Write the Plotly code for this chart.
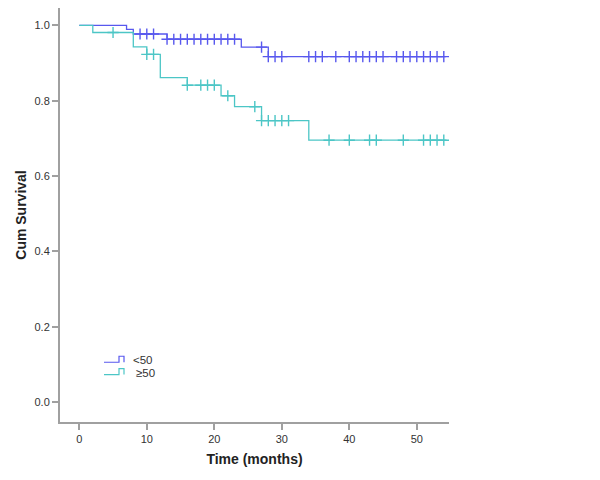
import plotly.graph_objects as go

# ---- data ----
under50_times = [0, 7, 8, 13, 24, 28, 54.3]
under50_surv = [1.0, 0.989, 0.977, 0.963, 0.942, 0.917, 0.917]
under50_censor = [9, 10, 11, 13, 14, 15, 16, 17, 18, 19, 20, 21, 22, 23, 27,
                  28, 29, 30, 34, 35, 36, 38, 40, 41, 42, 43, 44, 45,
                  47, 48, 49, 50, 51, 52, 53, 54]

over50_times = [0, 2, 8, 10, 12, 16, 21, 23, 27, 34, 54.4]
over50_surv = [1.0, 0.981, 0.943, 0.923, 0.861, 0.841, 0.813, 0.784, 0.747, 0.695, 0.695]
over50_censor = [5, 10, 11, 16, 18, 19, 20, 22, 26, 27, 28, 29, 30, 31,
                 37, 40, 43, 44, 48, 51, 52, 53, 54]

group_labels = ["<50", "≥50"]
x_ticks = [0, 10, 20, 30, 40, 50]
y_ticks = [0.0, 0.2, 0.4, 0.6, 0.8, 1.0]

BLUE = "#5858ee"
TEAL = "#4cc6c6"


def surv_at(times, surv, t):
    s = surv[0]
    for ti, si in zip(times, surv):
        if t >= ti:
            s = si
    return s


fig = go.Figure()
for times, surv, cens, col, name in [
    (under50_times, under50_surv, under50_censor, BLUE, group_labels[0]),
    (over50_times, over50_surv, over50_censor, TEAL, group_labels[1]),
]:
    fig.add_trace(go.Scatter(x=times, y=surv, mode="lines", line_shape="hv",
                             line=dict(color=col, width=1.3), name=name,
                             showlegend=False, hoverinfo="skip"))
    fig.add_trace(go.Scatter(x=cens, y=[surv_at(times, surv, t) for t in cens],
                             mode="markers",
                             marker=dict(symbol="cross-thin", size=8,
                                         line=dict(color=col, width=1.4)),
                             showlegend=False, hoverinfo="skip"))

# plot area in page pixels (page has an 8px body margin)
OFF = 8
L, R, T, B = 60, 449, 8, 421.7


def px(x):
    return (x - L) / (R - L)


def py(y):
    return (B - y) / (B - T)


# manual legend with step-shaped glyphs
for i, (col, lab) in enumerate(zip([BLUE, TEAL], group_labels)):
    yb = 362 + i * 12.3
    yt = yb - 6
    path = (f"M {px(104)},{py(yb)} L {px(119)},{py(yb)} L {px(119)},{py(yt)} "
            f"L {px(124)},{py(yt)} L {px(124)},{py(yb)}")
    fig.add_shape(type="path", path=path, xref="paper", yref="paper",
                  line=dict(color=col, width=1.2))
    fig.add_annotation(x=px(131 + i * 2.5), y=py(yb - 2), xref="paper", yref="paper",
                       text=lab, showarrow=False, xanchor="left", yanchor="middle",
                       font=dict(family="Liberation Sans, Arial", size=11.5, color="#333333"))

axis_common = dict(showline=True, linecolor="#a0a0a0", linewidth=2,
                   showgrid=False, zeroline=False, ticks="outside",
                   ticklen=6, tickwidth=1.5, tickcolor="#a0a0a0",
                   tickfont=dict(family="Liberation Sans, Arial", size=11, color="#333333"))

fig.update_layout(
    width=600, height=480,
    margin=dict(l=L - OFF, r=600 - (R - OFF), t=T - OFF, b=480 - (B - OFF)),
    paper_bgcolor="white", plot_bgcolor="white",
    xaxis=dict(range=[-2.86, 54.77], tickvals=x_ticks,
               title=dict(text="<b>Time (months)</b>", standoff=10,
                          font=dict(family="Liberation Sans, Arial", size=14, color="#222222")),
               **axis_common),
    yaxis=dict(range=[-0.0531, 1.046], tickvals=y_ticks, tickformat=".1f",
               title=dict(text="<b>Cum Survival</b>", standoff=5,
                          font=dict(family="Liberation Sans, Arial", size=14, color="#222222")),
               **axis_common),
    showlegend=False,
)

fig.write_html("out.html")
